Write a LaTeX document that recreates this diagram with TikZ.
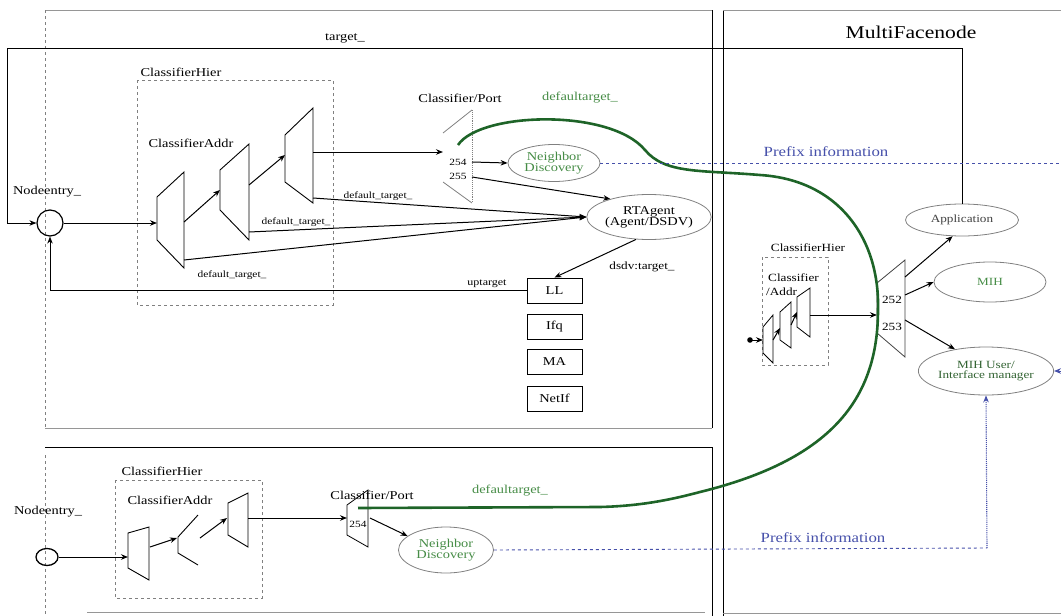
\documentclass[tikz,border=0pt]{standalone}
\usepackage{fontspec}
\setmainfont{Liberation Serif}[FakeStretch=1.2]
\usetikzlibrary{arrows.meta,shapes.geometric}
\definecolor{dgreen}{RGB}{30,100,40}
\definecolor{tgreen}{RGB}{70,140,70}
\definecolor{pblue}{RGB}{70,80,170}
\definecolor{framec}{RGB}{150,150,150}
\begin{document}
\begin{tikzpicture}[x=1pt,y=-1pt,
  >={Stealth[length=7pt,width=5.5pt]},
  lbl/.style={font=\fontsize{12}{13}\selectfont, inner sep=0pt},
  sml/.style={font=\fontsize{9.5}{10}\selectfont, inner sep=0pt},
  conn/.style={draw, line width=1pt, ->},
  trapz/.style={draw, line width=0.9pt},
  ell/.style={draw=gray, ellipse, line width=0.8pt, inner sep=0pt, align=center, font=\fontsize{12}{13}\selectfont},
  lbox/.style={draw, line width=0.9pt, minimum width=55pt, minimum height=25pt, inner sep=0pt, font=\fontsize{12}{13}\selectfont},
  hier/.style={draw=gray, dashed, line width=0.6pt},
  frameline/.style={draw=framec, line width=0.7pt},
  gcurve/.style={draw=dgreen, line width=2.6pt},
  pdash/.style={draw=pblue, dashed, line width=0.9pt},
]
\useasboundingbox (0,0) rectangle (1061,616);

% ---------------- frames ----------------
\draw[frameline] (45,10) -- (712,10);
\draw[gray, dashed, line width=0.6pt] (45,10) -- (45,428);
\draw[frameline] (45,428) -- (712,428);
\draw[line width=0.9pt] (712,10) -- (712,428);
\draw[line width=1pt] (45,447) -- (712,447) -- (712,616);
\draw[gray, dashed, line width=0.6pt] (45,455) -- (45,616);
\draw[frameline] (87,612) -- (705,612);
\draw[line width=0.9pt] (723,10) -- (723,616);
\draw[frameline] (723,10) -- (1061,10);
\draw[frameline] (723,613) -- (1061,613);
\node[font=\fontsize{18}{20}\selectfont, inner sep=0pt] (mfn) at (911,32) {MultiFacenode};

% ---------------- top node ----------------
\node[circle, draw, line width=1.2pt, minimum size=26pt, inner sep=0pt] (ne1) at (50,223) {};
\node[lbl] (ne1l) at (47,192) {Nodeentry\_};

\draw[hier] (137,80) rectangle (333,305);
\node[lbl] (h1l) at (181,72) {ClassifierHier};
\node[lbl] (a1l) at (191,143) {ClassifierAddr};

\draw[trapz] (157,197) -- (184,172) -- (184,268) -- (157,240) -- cycle;
\draw[trapz] (220,170) -- (249,144) -- (249,240) -- (220,210) -- cycle;
\draw[trapz] (285,135) -- (313,108) -- (313,203) -- (285,182) -- cycle;
\coordinate (a1in) at (157,223);
\coordinate (a1out) at (184,222);
\coordinate (a2in) at (220,190);
\coordinate (a2out) at (249,185);
\coordinate (a3in) at (285,155);
\coordinate (a3out) at (313,152);
\coordinate (a1d) at (184,260);
\coordinate (a2d) at (249,232);
\coordinate (a3d) at (313,198);

\draw[conn] (ne1.east) -- (a1in);
\draw[conn] (a1out) -- (a2in);
\draw[conn] (a2out) -- (a3in);

% classifier/port top
\draw[gray, line width=0.8pt] (443,133) -- (472,110);
\draw[gray, line width=0.8pt] (443,182) -- (472,203);
\draw[gray, densely dotted, line width=0.9pt] (472,110) -- (472,203);
\coordinate (p1in) at (443,152);
\coordinate (p1a) at (472,162);
\coordinate (p1b) at (472,177);
\coordinate (p1g) at (458,145);
\node[sml] at (458,162) {254};
\node[sml] at (458,176) {255};
\node[lbl] (p1l) at (460,98) {Classifier/Port};
\draw[conn] (a3out) -- (p1in);

\node[ell, minimum width=92pt, minimum height=37pt, text=tgreen] (nd1) at (554,163) {Neighbor\\[-2pt]Discovery};
\node[ell, minimum width=98pt, minimum height=45pt] (rta) at (649,217) {RTAgent\\[-2pt](Agent/DSDV)};
\draw[conn] (p1a) -- (nd1.west);
\draw[conn] (p1b) -- (rta.155);
\draw[conn] (a3d) -- (rta.west);
\draw[conn] (a2d) -- (rta.west);
\draw[conn] (a1d) -- (rta.west);
\node[sml] at (378,196) {default\_target\_};
\node[sml] at (296,222) {default\_target\_};
\node[sml] at (232,275) {default\_target\_};

\node[lbox] (ll) at (554.5,290.5) {LL};
\node[lbox] (ifq) at (554.5,326.5) {Ifq};
\node[lbox] (ma) at (554.5,361.5) {MA};
\node[lbox] (netif) at (554.5,398.5) {NetIf};
\draw[conn] (rta.240) -- (ll.north);
\node[font=\fontsize{11}{12}\selectfont, inner sep=0pt] at (642,267) {dsdv:target\_};
\draw[conn] (ll.west) -| (ne1.south);
\node[font=\fontsize{10}{11}\selectfont, inner sep=0pt] at (487,284) {uptarget};

% ---------------- MultiFace node ----------------
\node[ell, minimum width=113pt, minimum height=32pt, font=\fontsize{11}{12}\selectfont, text=darkgray] (app) at (962,220) {Application};
\node[ell, minimum width=112pt, minimum height=40pt, font=\fontsize{11}{12}\selectfont, text=tgreen] (mih) at (990,282) {MIH};
\node[ell, minimum width=123pt, minimum height=48pt, font=\fontsize{11}{12}\selectfont, text=tgreen!70!black] (mihu) at (986,371) {MIH User/\\[-2pt]Interface manager};

\draw[conn] (app.north) -- (962,48) -- (7,48) -- (7,223) -- (ne1.west);
\node[lbl] at (345,38) {target\_};

\draw[hier] (762,257) rectangle (828,365);
\node[font=\fontsize{11}{12}\selectfont, inner sep=0pt] (h3l) at (808,248) {ClassifierHier};
\node[font=\fontsize{11}{12}\selectfont, inner sep=0pt, anchor=west] (a3l) at (768,278) {Classifier};
\node[font=\fontsize{11}{12}\selectfont, inner sep=0pt, anchor=west] (a3l2) at (766,292) {/Addr};

\draw[trapz, line width=0.8pt] (763,327) -- (773,315) -- (773,363) -- (763,353) -- cycle;
\draw[trapz, line width=0.8pt] (780,312) -- (791,302) -- (791,348) -- (780,340) -- cycle;
\draw[trapz, line width=0.8pt] (797,297) -- (810,288) -- (810,337) -- (797,327) -- cycle;
\fill (750,340) circle (2.8pt);
\coordinate (edot) at (750,340);
\draw[conn] (edot) -- (763,340);
\draw[conn] (773,340) -- (780,328);
\draw[conn] (791,325) -- (797,312);
\coordinate (t3out) at (810,315);
\coordinate (p3in) at (877,315);
\draw[conn] (t3out) -- (p3in);

\draw[trapz, line width=0.8pt, draw=darkgray] (877,283) -- (905,260) -- (905,357) -- (877,333) -- cycle;
\node[font=\fontsize{11}{12}\selectfont, inner sep=0pt] at (892,300) {252};
\node[font=\fontsize{11}{12}\selectfont, inner sep=0pt] at (892,327) {253};
\draw[conn] (905,277) -- (app.240);
\draw[conn] (905,295) -- (mih.west);
\draw[conn] (905,320) -- (mihu.145);

% ---------------- bottom node ----------------
\node[ellipse, draw, line width=1.3pt, minimum width=22pt, minimum height=17pt, inner sep=0pt] (ne2) at (47,557) {};
\node[lbl] (ne2l) at (48,512) {Nodeentry\_};
\draw[hier] (115,480) rectangle (262,598);
\node[lbl] (h2l) at (162,471) {ClassifierHier};
\node[lbl] (a2l) at (170,500) {ClassifierAddr};

\draw[trapz] (128,533) -- (149,527) -- (149,580) -- (128,568) -- cycle;
\draw[trapz] (198,515) -- (178,537) -- (178,553) -- (198,565);
\draw[trapz] (228,503) -- (248,493) -- (248,547) -- (228,535) -- cycle;
\draw[conn] (ne2.east) -- (128,557);
\draw[conn] (150,547) -- (177,538);
\draw[conn] (200,538) -- (227,518);
\coordinate (b3out) at (248,518);
\coordinate (p2in) at (347,518);
\draw[conn] (b3out) -- (p2in);

\draw[trapz, line width=0.8pt] (347,505) -- (368,490) -- (368,547) -- (347,535) -- cycle;
\node[sml] at (358,524) {254};
\node[lbl] (p2l) at (372,495) {Classifier/Port};
\node[ell, minimum width=95pt, minimum height=46pt, text=tgreen] (nd2) at (446,550) {Neighbor\\[-2pt]Discovery};
\draw[conn] (370,518) -- (nd2.160);

% ---------------- green default target curve ----------------
\draw[gcurve] (p1g) .. controls (480,112) and (610,108) .. (645,150)
  .. controls (665,174) and (700,170) .. (760,175)
  .. controls (840,180) and (880,240) .. (878,310)
  .. controls (878,400) and (830,460) .. (700,492)
  .. controls (670,500) and (640,506) .. (600,507) -- (358,508);
\node[lbl, text=tgreen] at (580,98) {defaultarget\_};
\node[lbl, text=tgreen] at (510,491) {defaultarget\_};

% ---------------- prefix information ----------------
\coordinate (pr1) at (1061,163);
\draw[pdash] (nd1.east) -- (pr1);
\node[font=\fontsize{14}{15}\selectfont, inner sep=0pt, text=pblue] at (826,152) {Prefix information};
\coordinate (pr2) at (1061,371);
\draw[pdash, ->] (pr2) -- (mihu.east);
\coordinate (pc) at (987,548);
\draw[pdash] (nd2.east) -- (pc);
\draw[draw=pblue, densely dotted, line width=1.1pt, ->] (pc) -- (mihu.south);
\node[font=\fontsize{14}{15}\selectfont, inner sep=0pt, text=pblue] at (823,538) {Prefix information};
\end{tikzpicture}
\end{document}
